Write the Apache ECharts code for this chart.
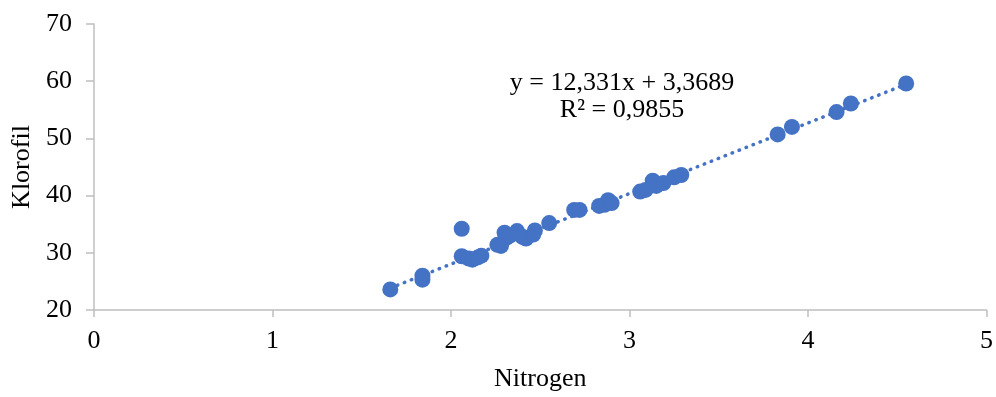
<!DOCTYPE html>
<html>
<head>
<meta charset="utf-8">
<script src="https://cdn.jsdelivr.net/npm/echarts@6/dist/echarts.min.js"></script>
<style>html,body{margin:0;padding:0;background:#fff}#c{width:996px;height:397px}</style>
</head>
<body>
<div id="c"></div>
<script>
// Data (Nitrogen, Klorofil)
const nitrogen = [1.66,1.84,1.84,2.06,2.06,2.10,2.12,2.15,2.17,2.26,2.28,2.30,2.31,2.33,2.37,2.40,2.42,2.46,2.47,2.55,2.69,2.72,2.83,2.86,2.88,2.90,3.06,3.09,3.13,3.15,3.19,3.25,3.29,3.83,3.91,4.16,4.24,4.55];
const klorofil = [23.6,26.0,25.3,34.2,29.4,29.0,28.8,29.2,29.5,31.4,31.2,33.5,32.6,33.0,33.8,32.8,32.5,33.2,33.9,35.2,37.5,37.5,38.2,38.4,39.2,38.7,40.7,41.0,42.6,41.7,42.2,43.2,43.6,50.7,52.0,54.6,56.1,59.6];
const xTicks = [0,1,2,3,4,5];
const yTicks = [20,30,40,50,60,70];
const slope = 12.331;
const intercept = 3.3689;
const equationLines = ['y = 12,331x + 3,3689', 'R² = 0,9855'];
const xTitle = 'Nitrogen';
const yTitle = 'Klorofil';

const points = nitrogen.map((x, i) => [x, klorofil[i]]);
const xMin = Math.min(...nitrogen), xMax = Math.max(...nitrogen);
const trend = [[xMin, slope * xMin + intercept], [xMax, slope * xMax + intercept]];

const FONT = '"Liberation Serif", "Times New Roman", serif';
const chart = echarts.init(document.getElementById('c'), null, {renderer: 'canvas'});
chart.setOption({
  animation: false,
  backgroundColor: '#ffffff',
  grid: {left: 94, right: 7, top: 24, bottom: 86, containLabel: false},
  xAxis: {
    type: 'value', min: xTicks[0], max: xTicks[xTicks.length - 1], interval: 1,
    name: xTitle, nameLocation: 'middle', nameGap: 56,
    nameTextStyle: {fontFamily: FONT, fontSize: 26, color: '#000'},
    axisLine: {show: true, onZero: false, lineStyle: {color: '#BFBFBF', width: 1.5}},
    axisTick: {show: true, length: 7, lineStyle: {color: '#BFBFBF', width: 1.5}},
    axisLabel: {fontFamily: FONT, fontSize: 26, color: '#000', margin: 18},
    splitLine: {show: false}
  },
  yAxis: {
    type: 'value', min: yTicks[0], max: yTicks[yTicks.length - 1], interval: 10,
    name: yTitle, nameLocation: 'middle', nameGap: 59, nameRotate: 90,
    nameTextStyle: {fontFamily: FONT, fontSize: 26, color: '#000'},
    axisLine: {show: true, onZero: false, lineStyle: {color: '#BFBFBF', width: 1.5}},
    axisTick: {show: true, length: 8, lineStyle: {color: '#BFBFBF', width: 1.5}},
    axisLabel: {fontFamily: FONT, fontSize: 26, color: '#000', margin: 22},
    splitLine: {show: false}
  },
  series: [
    {
      type: 'line', data: trend, showSymbol: false, symbol: 'none', z: 1,
      lineStyle: {color: '#4472C4', width: 3.5, type: [0.5, 7], cap: 'round'}
    },
    {
      type: 'scatter', data: points, symbol: 'circle', symbolSize: 16, z: 2,
      itemStyle: {color: '#4472C4', opacity: 1}
    }
  ],
  graphic: [
    {type: 'text', x: 622, y: 70, style: {text: equationLines[0], font: '26px ' + FONT, fill: '#000', align: 'center', verticalAlign: 'top'}},
    {type: 'text', x: 622, y: 97, style: {text: equationLines[1], font: '26px ' + FONT, fill: '#000', align: 'center', verticalAlign: 'top'}}
  ]
});
</script>
</body>
</html>
